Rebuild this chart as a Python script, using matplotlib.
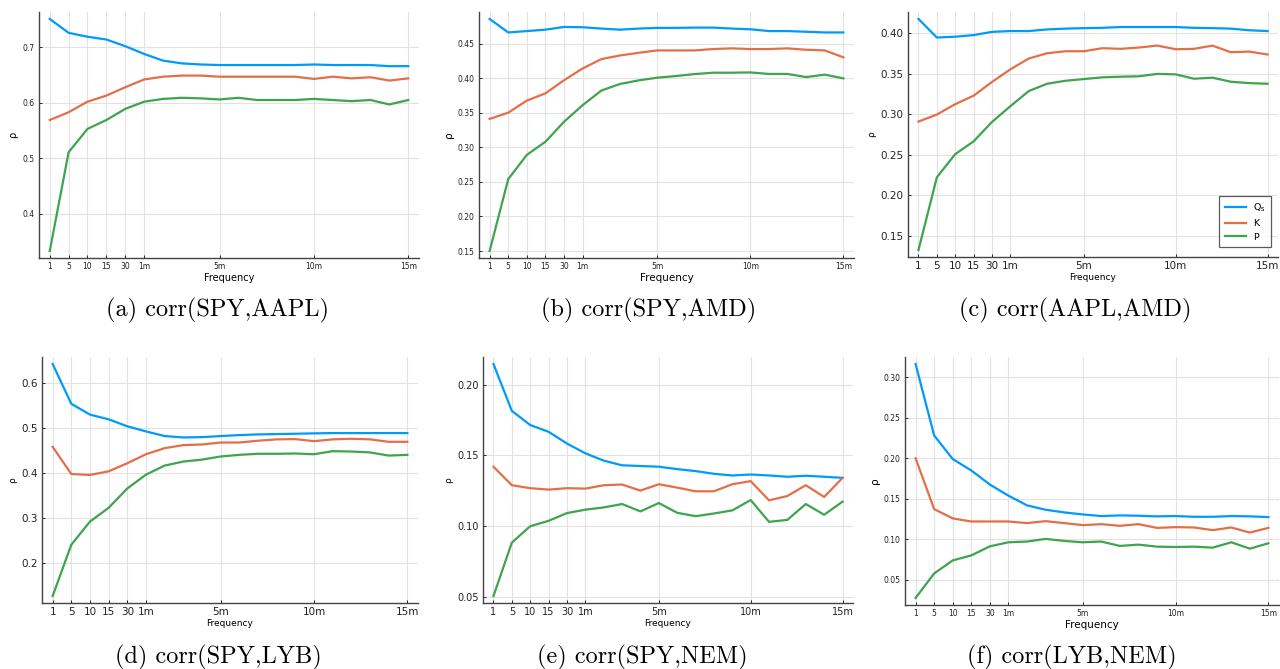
import matplotlib
matplotlib.use("Agg")
import matplotlib.pyplot as plt
from matplotlib.ticker import MultipleLocator, FormatStrFormatter

# x categories (index positions 0..19)
freq_labels = ["1", "5", "10", "15", "30", "1m", "2m", "3m", "4m", "5m", "6m", "7m",
               "8m", "9m", "10m", "11m", "12m", "13m", "14m", "15m"]
shown_ticks = ["1", "5", "10", "15", "30", "1m", "5m", "10m", "15m"]

# (a) corr(SPY,AAPL)
a_Q = [0.751, 0.726, 0.719, 0.714, 0.702, 0.688, 0.676, 0.671, 0.669, 0.668,
       0.668, 0.668, 0.668, 0.668, 0.669, 0.668, 0.668, 0.668, 0.666, 0.666]
a_K = [0.569, 0.583, 0.602, 0.613, 0.628, 0.642, 0.647, 0.649, 0.649, 0.647,
       0.647, 0.647, 0.647, 0.647, 0.643, 0.647, 0.644, 0.646, 0.640, 0.644]
a_P = [0.333, 0.511, 0.553, 0.569, 0.589, 0.602, 0.607, 0.609, 0.608, 0.606,
       0.609, 0.605, 0.605, 0.605, 0.607, 0.605, 0.603, 0.605, 0.597, 0.605]

# (b) corr(SPY,AMD)
b_Q = [0.4855, 0.466, 0.468, 0.470, 0.474, 0.4735, 0.4716, 0.470, 0.4716, 0.4726,
       0.4726, 0.473, 0.473, 0.4716, 0.4706, 0.468, 0.468, 0.467, 0.466, 0.466]
b_K = [0.341, 0.350, 0.3675, 0.378, 0.397, 0.414, 0.4275, 0.4327, 0.4366, 0.440,
       0.440, 0.440, 0.442, 0.443, 0.442, 0.442, 0.443, 0.441, 0.440, 0.430]
b_P = [0.150, 0.254, 0.289, 0.308, 0.337, 0.361, 0.382, 0.3915, 0.3967, 0.4006,
       0.403, 0.4058, 0.4078, 0.4078, 0.4082, 0.406, 0.406, 0.4015, 0.405, 0.3996]

# (c) corr(AAPL,AMD)
c_Q = [0.418, 0.395, 0.396, 0.398, 0.402, 0.403, 0.403, 0.405, 0.406, 0.4066,
       0.407, 0.408, 0.408, 0.408, 0.408, 0.407, 0.4066, 0.406, 0.404, 0.403]
c_K = [0.291, 0.2997, 0.3125, 0.323, 0.340, 0.3556, 0.369, 0.3755, 0.378, 0.378,
       0.3818, 0.381, 0.3826, 0.385, 0.3805, 0.381, 0.385, 0.3768, 0.3776, 0.374]
c_P = [0.132, 0.222, 0.2507, 0.2665, 0.2905, 0.310, 0.3287, 0.3378, 0.3415, 0.3436,
       0.3457, 0.3465, 0.347, 0.350, 0.3494, 0.344, 0.3453, 0.3403, 0.3386, 0.3378]

# (d) corr(SPY,LYB)
d_Q = [0.6425, 0.554, 0.530, 0.5195, 0.504, 0.4927, 0.4823, 0.4793, 0.480, 0.4823,
       0.4845, 0.486, 0.4868, 0.4875, 0.4883, 0.489, 0.489, 0.489, 0.489, 0.489]
d_K = [0.4585, 0.398, 0.396, 0.404, 0.422, 0.442, 0.4555, 0.4622, 0.4637, 0.468,
       0.468, 0.472, 0.475, 0.4756, 0.471, 0.475, 0.4763, 0.475, 0.4696, 0.4696]
d_P = [0.127, 0.241, 0.2924, 0.323, 0.366, 0.3966, 0.4168, 0.4257, 0.430, 0.437,
       0.4406, 0.443, 0.443, 0.4436, 0.442, 0.4488, 0.448, 0.446, 0.439, 0.4406]

# (e) corr(SPY,NEM)
e_Q = [0.2147, 0.1815, 0.1715, 0.1667, 0.1584, 0.1515, 0.1463, 0.143, 0.1425, 0.142,
       0.1403, 0.1389, 0.137, 0.1358, 0.1365, 0.1358, 0.1349, 0.1356, 0.1349, 0.1341]
e_K = [0.142, 0.1289, 0.1268, 0.1258, 0.1268, 0.1265, 0.1289, 0.1294, 0.1251, 0.1296,
       0.1272, 0.1246, 0.1246, 0.1296, 0.1318, 0.1182, 0.1213, 0.1289, 0.1206, 0.1341]
e_P = [0.0505, 0.0883, 0.0999, 0.1037, 0.1092, 0.1116, 0.1132, 0.1156, 0.1104, 0.1163,
       0.1094, 0.1070, 0.1089, 0.1111, 0.1184, 0.1030, 0.1044, 0.1156, 0.1080, 0.1173]

# (f) corr(LYB,NEM)
f_Q = [0.3162, 0.2279, 0.1988, 0.1847, 0.1673, 0.1536, 0.1416, 0.1362, 0.1329, 0.1304,
       0.1284, 0.1292, 0.1288, 0.128, 0.1284, 0.1275, 0.1275, 0.1284, 0.128, 0.1271]
f_K = [0.1997, 0.137, 0.1255, 0.1217, 0.1217, 0.1217, 0.1197, 0.1221, 0.1197, 0.1172,
       0.1184, 0.1163, 0.1184, 0.1138, 0.1147, 0.1143, 0.111, 0.1143, 0.108, 0.1138]
f_P = [0.0272, 0.0575, 0.0736, 0.0798, 0.091, 0.096, 0.0969, 0.1002, 0.0977, 0.096,
       0.0969, 0.0915, 0.0931, 0.0906, 0.0902, 0.0906, 0.0894, 0.096, 0.0881, 0.0948]

captions = ["(a) corr(SPY,AAPL)", "(b) corr(SPY,AMD)", "(c) corr(AAPL,AMD)",
            "(d) corr(SPY,LYB)", "(e) corr(SPY,NEM)", "(f) corr(LYB,NEM)"]
series_names = [r"$\mathregular{Q_s}$", "K", "P"]
colors = ["#009AFA", "#E36F47", "#3EA44E"]

W, H = 1280, 669
fig = plt.figure(figsize=(W / 100, H / 100), dpi=100)

# pixel rects: left, top, right, bottom
rects = [(39, 12, 419, 258), (479, 12, 854, 258), (908, 12, 1278, 257),
         (42, 357, 418, 603), (483, 357, 853, 603), (905, 357, 1279, 605)]
ysteps = [0.1, 0.05, 0.05, 0.1, 0.05, 0.05]
yfmts = ["%.1f", "%.2f", "%.2f", "%.1f", "%.2f", "%.2f"]
tick_fs = [5.5, 5.5, 7.5, 7.5, 7.0, 5.5]
lab_fs = [7.0, 7.5, 6.5, 6.5, 6.5, 7.5]
cap_pos = [(218, 310), (649, 310), (1075, 310), (218, 657), (642, 657), (1072, 657)]

data = [(a_Q, a_K, a_P), (b_Q, b_K, b_P), (c_Q, c_K, c_P),
        (d_Q, d_K, d_P), (e_Q, e_K, e_P), (f_Q, f_K, f_P)]

x = list(range(len(freq_labels)))
tick_pos = [freq_labels.index(t) for t in shown_ticks]

for i, (l, t, r, b) in enumerate(rects):
    ax = fig.add_axes([l / W, 1 - b / H, (r - l) / W, (b - t) / H])
    allv = []
    for s, name, c in zip(data[i], series_names, colors):
        ax.plot(x, s, color=c, lw=1.6, label=name, solid_joinstyle="round")
        allv += s
    lo, hi = min(allv), max(allv)
    pad = 0.03 * (hi - lo)
    ax.set_ylim(lo - pad, hi + pad)
    ax.set_xlim(-0.03 * 19, 19 * 1.03)
    ax.set_xticks(tick_pos)
    ax.set_xticklabels(shown_ticks)
    ax.yaxis.set_major_locator(MultipleLocator(ysteps[i]))
    ax.yaxis.set_major_formatter(FormatStrFormatter(yfmts[i]))
    ax.tick_params(labelsize=tick_fs[i], length=2, width=0.7, direction="in",
                   pad=3, colors="#222222")
    ax.grid(True, color="#e2e2e2", lw=0.8)
    ax.set_axisbelow(True)
    for sp in ["top", "right"]:
        ax.spines[sp].set_visible(False)
    for sp in ["left", "bottom"]:
        ax.spines[sp].set_color("#444444")
        ax.spines[sp].set_linewidth(1.0)
    ax.set_xlabel("Frequency", fontsize=lab_fs[i], labelpad=1)
    ax.set_ylabel("ρ", fontsize=lab_fs[i], labelpad=3)
    if i == 2:
        leg = ax.legend(loc="lower right", fontsize=6.8, frameon=True, fancybox=False,
                        handlelength=2.2, borderpad=0.6, labelspacing=0.5,
                        bbox_to_anchor=(0.995, 0.02))
        leg.get_frame().set_edgecolor("#333333")
        leg.get_frame().set_linewidth(0.9)
    cx, cy = cap_pos[i]
    fig.text(cx / W, 1 - cy / H, captions[i], ha="center", va="center",
             fontsize=17.5, family="cmr10")

fig.savefig("out.png", dpi=100)
